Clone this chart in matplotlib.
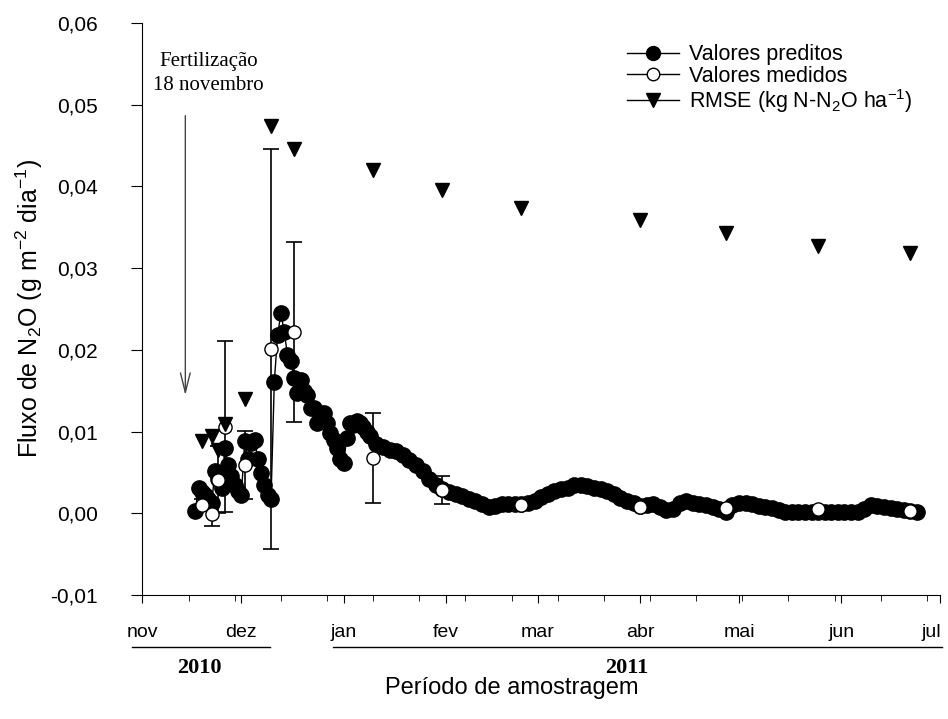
import matplotlib
matplotlib.use("Agg")
import matplotlib.pyplot as plt
import matplotlib.transforms as mtransforms
from matplotlib.lines import Line2D
import pandas as pd

plt.rcParams['font.family'] = ['Liberation Sans', 'DejaVu Sans']
plt.rcParams['mathtext.fontset'] = 'custom'
plt.rcParams['mathtext.rm'] = 'Liberation Sans'
plt.rcParams['mathtext.it'] = 'Liberation Sans'

# dias contados a partir de 1 de novembro de 2010
start = pd.Timestamp('2010-11-01')
month_labels = ['nov', 'dez', 'jan', 'fev', 'mar', 'abr', 'mai', 'jun', 'jul']
ytick_vals = [-0.01, 0.0, 0.01, 0.02, 0.03, 0.04, 0.05, 0.06]
ytick_labels = ['-0,01', '0,00', '0,01', '0,02', '0,03', '0,04', '0,05', '0,06']

# valores preditos
pred_days = list(range(16, 70)) + list(range(71, 236, 2))
pred_vals = [
    0.0003, 0.0031, 0.0026, 0.0022, 0.0018, 0.0012, 0.0052, 0.0042, 0.0031, 0.0080,
    0.0059, 0.0045, 0.0035, 0.0027, 0.0022, 0.0088, 0.0066, 0.0086, 0.0090, 0.0066,
    0.0049, 0.0034, 0.0022, 0.0017, 0.0161, 0.0218, 0.0245, 0.0222, 0.0194, 0.0186,
    0.0165, 0.0147, 0.0163, 0.0150, 0.0145, 0.0129, 0.0129, 0.0111, 0.0123, 0.0123,
    0.0111, 0.0098, 0.0090, 0.0080, 0.0066, 0.0062, 0.0092, 0.0111, 0.0108, 0.0113,
    0.0110, 0.0106, 0.0100, 0.0094,
    0.0085, 0.0081, 0.0078, 0.0076, 0.0071, 0.0065, 0.0059, 0.0052, 0.0042, 0.0034,
    0.0030, 0.0026, 0.0023, 0.0021, 0.0018, 0.0015, 0.0011, 0.0008, 0.0009, 0.0011,
    0.0011, 0.0011, 0.0011, 0.0012, 0.0015, 0.0020, 0.0024, 0.0027, 0.0030, 0.0031,
    0.0034, 0.0035, 0.0033, 0.0031, 0.0030, 0.0027, 0.0023, 0.0019, 0.0015, 0.0012,
    0.0009, 0.0010, 0.0011, 0.0008, 0.0004, 0.0005, 0.0012, 0.0015, 0.0013, 0.0011,
    0.0010, 0.0008, 0.0005, 0.0002, 0.0010, 0.0012, 0.0012, 0.0011, 0.0009, 0.0008,
    0.0006, 0.0004, 0.0002, 0.0002, 0.0002, 0.0002, 0.0001, 0.0001, 0.0001, 0.0001,
    0.0001, 0.0001, 0.0001, 0.0001, 0.0005, 0.0010, 0.0009, 0.0008, 0.0007, 0.0005,
    0.0004, 0.0003, 0.0001,
]

# valores medidos (com desvio)
meas_days = [18, 21, 23, 25, 31, 39, 46, 70, 91, 115, 151, 177, 205, 233]
meas_vals = [0.0010, -0.0001, 0.0041, 0.0106, 0.0059, 0.0201, 0.0222, 0.0068,
             0.0028, 0.0010, 0.0008, 0.0007, 0.0005, 0.0003]
meas_err = [0.0007, 0.0015, 0.0041, 0.0105, 0.0042, 0.0245, 0.0110, 0.0055,
            0.0017, 0.0, 0.0, 0.0, 0.0, 0.0]

# RMSE
rmse_days = [18, 21, 23, 25, 31, 39, 46, 70, 91, 115, 151, 177, 205, 233]
rmse_vals = [0.0088, 0.0094, 0.0077, 0.0109, 0.0140, 0.0474, 0.0446, 0.0420,
             0.0396, 0.0374, 0.0359, 0.0343, 0.0327, 0.0318]

month_starts = pd.date_range('2010-11-01', '2011-07-01', freq='MS')
month_days = [(d - start).days for d in month_starts]

fig = plt.figure(figsize=(9.48, 7.19), dpi=100)
ax = fig.add_axes([0.1503, 0.1725, 0.8413, 0.7955])

ax.plot(pred_days, pred_vals, '-o', color='black', ms=11, lw=1, zorder=2)
eb = [(d, v, e) for d, v, e in zip(meas_days, meas_vals, meas_err) if e > 0]
ax.errorbar([p[0] for p in eb], [p[1] for p in eb], yerr=[p[2] for p in eb],
            fmt='none', ecolor='black', elinewidth=1.2, capsize=6, capthick=1.2, zorder=3)
ax.plot(meas_days, meas_vals, 'o', mfc='white', mec='black', ms=9.5, mew=1, zorder=4)
ax.plot(rmse_days, rmse_vals, 'v', color='black', ms=10.5, zorder=5)

ax.set_xlim(0, 242)
ax.set_ylim(-0.01, 0.06)
ax.spines['top'].set_visible(False)
ax.spines['right'].set_visible(False)
ax.set_xticks(month_days)
ax.set_xticklabels(month_labels, fontsize=14)
ax.set_xticks(list(range(14, 243, 14)), minor=True)
ax.set_yticks(ytick_vals)
ax.set_yticklabels(ytick_labels, fontsize=15)
ax.tick_params(axis='x', which='major', direction='out', length=6, pad=15)
ax.tick_params(axis='x', which='minor', direction='out', length=4)
ax.tick_params(axis='y', direction='out', length=8, pad=24)

# "jul" fica colado na borda: puxa um pouco para a esquerda
jul = ax.get_xticklabels()[-1]
jul.set_transform(jul.get_transform() +
                  mtransforms.ScaledTranslation(-6 / 72, 0, fig.dpi_scale_trans))

ax.set_ylabel('Fluxo de N$_2$O (g m$^{-2}$ dia$^{-1}$)', fontsize=18, labelpad=4)

# anotação da fertilização
ax.annotate('', xy=(13, 0.0141), xytext=(13, 0.049),
            arrowprops=dict(arrowstyle='->,head_length=1.4,head_width=0.35',
                            color='#444444', lw=1))
ax.text(20, 0.0553, 'Fertilização', family=['Liberation Serif'], fontsize=15,
        ha='center', va='center')
ax.text(20, 0.0524, '18 novembro', family=['Liberation Serif'], fontsize=15,
        ha='center', va='center')

# anos abaixo do eixo
trans = mtransforms.blended_transform_factory(ax.transData, ax.transAxes)
ax.plot([-3.2, 38.7], [-0.091, -0.091], color='black', lw=1, transform=trans, clip_on=False)
ax.plot([57.8, 242.6], [-0.091, -0.091], color='black', lw=1, transform=trans, clip_on=False)
ax.text(17.4, -0.127, '2010', transform=trans, ha='center', va='center',
        family=['Liberation Serif'], fontweight='bold', fontsize=16)
ax.text(147, -0.127, '2011', transform=trans, ha='center', va='center',
        family=['Liberation Serif'], fontweight='bold', fontsize=16)
ax.text(0.463, -0.163, 'Período de amostragem', transform=ax.transAxes,
        ha='center', va='center', fontsize=17)

handles = [
    Line2D([], [], color='black', lw=1, marker='o', ms=10, mfc='black'),
    Line2D([], [], color='black', lw=1, marker='o', ms=9, mfc='white', mec='black'),
    Line2D([], [], color='black', lw=1, marker='v', ms=10, mfc='black'),
]
labels = ['Valores preditos', 'Valores medidos', 'RMSE (kg N-N$_2$O ha$^{-1}$)']
ax.legend(handles, labels, loc='upper left', bbox_to_anchor=(0.6075, 0.963),
          frameon=False, fontsize=15.5, handlelength=2.4, handletextpad=0.5,
          borderpad=0, borderaxespad=0, labelspacing=0.02)

fig.savefig('out.png', dpi=100)
